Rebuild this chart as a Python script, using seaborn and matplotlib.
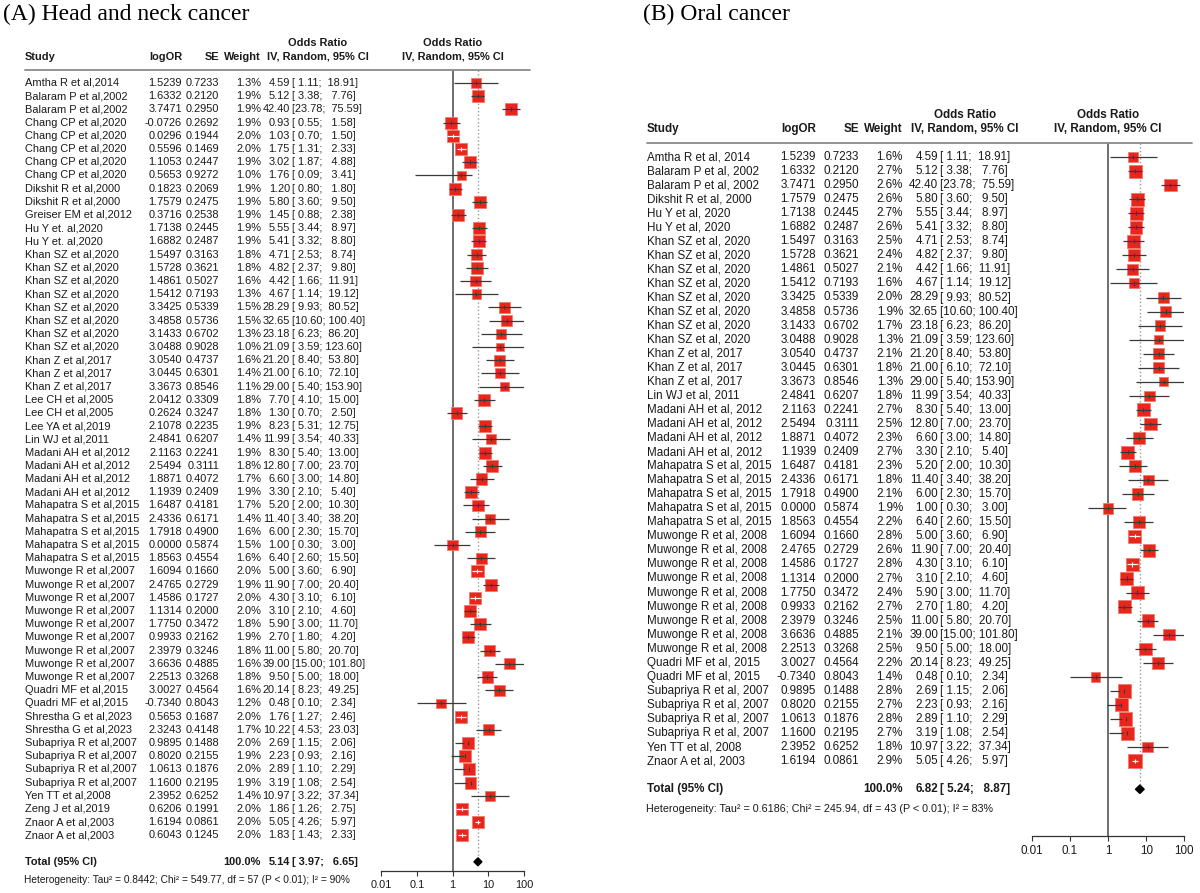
import numpy as np
import pandas as pd
import matplotlib
matplotlib.use('Agg')
import matplotlib.pyplot as plt
import matplotlib.transforms as mtransforms
from matplotlib.lines import Line2D
from matplotlib.ticker import NullLocator
import seaborn as sns

# (A) head and neck cancer
a_study = ["Amtha R et al,2014", "Balaram P et al,2002", "Balaram P et al,2002",
           "Chang CP et al,2020", "Chang CP et al,2020", "Chang CP et al,2020",
           "Chang CP et al,2020", "Chang CP et al,2020", "Dikshit R et al,2000",
           "Dikshit R et al,2000", "Greiser EM et al,2012", "Hu Y et. al,2020",
           "Hu Y et. al,2020", "Khan SZ et al,2020", "Khan SZ et al,2020",
           "Khan SZ et al,2020", "Khan SZ et al,2020", "Khan SZ et al,2020",
           "Khan SZ et al,2020", "Khan SZ et al,2020", "Khan SZ et al,2020",
           "Khan Z et al,2017", "Khan Z et al,2017", "Khan Z et al,2017",
           "Lee CH et al,2005", "Lee CH et al,2005", "Lee YA et al,2019",
           "Lin WJ et al,2011", "Madani AH et al,2012", "Madani AH et al,2012",
           "Madani AH et al,2012", "Madani AH et al,2012", "Mahapatra S et al,2015",
           "Mahapatra S et al,2015", "Mahapatra S et al,2015", "Mahapatra S et al,2015",
           "Mahapatra S et al,2015", "Muwonge R et al,2007", "Muwonge R et al,2007",
           "Muwonge R et al,2007", "Muwonge R et al,2007", "Muwonge R et al,2007",
           "Muwonge R et al,2007", "Muwonge R et al,2007", "Muwonge R et al,2007",
           "Muwonge R et al,2007", "Quadri MF et al,2015", "Quadri MF et al,2015",
           "Shrestha G et al,2023", "Shrestha G et al,2023", "Subapriya R et al,2007",
           "Subapriya R et al,2007", "Subapriya R et al,2007", "Subapriya R et al,2007",
           "Yen TT et al,2008", "Zeng J et al,2019", "Znaor A et al,2003",
           "Znaor A et al,2003"]
a_logor = [1.5239, 1.6332, 3.7471, -0.0726, 0.0296, 0.5596, 1.1053, 0.5653, 0.1823,
           1.7579, 0.3716, 1.7138, 1.6882, 1.5497, 1.5728, 1.4861, 1.5412, 3.3425,
           3.4858, 3.1433, 3.0488, 3.0540, 3.0445, 3.3673, 2.0412, 0.2624, 2.1078,
           2.4841, 2.1163, 2.5494, 1.8871, 1.1939, 1.6487, 2.4336, 1.7918, 0.0000,
           1.8563, 1.6094, 2.4765, 1.4586, 1.1314, 1.7750, 0.9933, 2.3979, 3.6636,
           2.2513, 3.0027, -0.7340, 0.5653, 2.3243, 0.9895, 0.8020, 1.0613, 1.1600,
           2.3952, 0.6206, 1.6194, 0.6043]
a_se = [0.7233, 0.2120, 0.2950, 0.2692, 0.1944, 0.1469, 0.2447, 0.9272, 0.2069,
        0.2475, 0.2538, 0.2445, 0.2487, 0.3163, 0.3621, 0.5027, 0.7193, 0.5339,
        0.5736, 0.6702, 0.9028, 0.4737, 0.6301, 0.8546, 0.3309, 0.3247, 0.2235,
        0.6207, 0.2241, 0.3111, 0.4072, 0.2409, 0.4181, 0.6171, 0.4900, 0.5874,
        0.4554, 0.1660, 0.2729, 0.1727, 0.2000, 0.3472, 0.2162, 0.3246, 0.4885,
        0.3268, 0.4564, 0.8043, 0.1687, 0.4148, 0.1488, 0.2155, 0.1876, 0.2195,
        0.6252, 0.1991, 0.0861, 0.1245]
a_weight = [1.3, 1.9, 1.9, 1.9, 2.0, 2.0, 1.9, 1.0, 1.9, 1.9, 1.9, 1.9, 1.9, 1.8,
            1.8, 1.6, 1.3, 1.5, 1.5, 1.3, 1.0, 1.6, 1.4, 1.1, 1.8, 1.8, 1.9, 1.4,
            1.9, 1.8, 1.7, 1.9, 1.7, 1.4, 1.6, 1.5, 1.6, 2.0, 1.9, 2.0, 2.0, 1.8,
            1.9, 1.8, 1.6, 1.8, 1.6, 1.2, 2.0, 1.7, 2.0, 1.9, 2.0, 1.9, 1.4, 2.0,
            2.0, 2.0]
a_or = [4.59, 5.12, 42.40, 0.93, 1.03, 1.75, 3.02, 1.76, 1.20, 5.80, 1.45, 5.55,
        5.41, 4.71, 4.82, 4.42, 4.67, 28.29, 32.65, 23.18, 21.09, 21.20, 21.00,
        29.00, 7.70, 1.30, 8.23, 11.99, 8.30, 12.80, 6.60, 3.30, 5.20, 11.40, 6.00,
        1.00, 6.40, 5.00, 11.90, 4.30, 3.10, 5.90, 2.70, 11.00, 39.00, 9.50, 20.14,
        0.48, 1.76, 10.22, 2.69, 2.23, 2.89, 3.19, 10.97, 1.86, 5.05, 1.83]
a_lo = [1.11, 3.38, 23.78, 0.55, 0.70, 1.31, 1.87, 0.09, 0.80, 3.60, 0.88, 3.44,
        3.32, 2.53, 2.37, 1.66, 1.14, 9.93, 10.60, 6.23, 3.59, 8.40, 6.10, 5.40,
        4.10, 0.70, 5.31, 3.54, 5.40, 7.00, 3.00, 2.10, 2.00, 3.40, 2.30, 0.30,
        2.60, 3.60, 7.00, 3.10, 2.10, 3.00, 1.80, 5.80, 15.00, 5.00, 8.23, 0.10,
        1.27, 4.53, 1.15, 0.93, 1.10, 1.08, 3.22, 1.26, 4.26, 1.43]
a_hi = [18.91, 7.76, 75.59, 1.58, 1.50, 2.33, 4.88, 3.41, 1.80, 9.50, 2.38, 8.97,
        8.80, 8.74, 9.80, 11.91, 19.12, 80.52, 100.40, 86.20, 123.60, 53.80, 72.10,
        153.90, 15.00, 2.50, 12.75, 40.33, 13.00, 23.70, 14.80, 5.40, 10.30, 38.20,
        15.70, 3.00, 15.50, 6.90, 20.40, 6.10, 4.60, 11.70, 4.20, 20.70, 101.80,
        18.00, 49.25, 2.34, 2.46, 23.03, 2.06, 2.16, 2.29, 2.54, 37.34, 2.75, 5.97,
        2.33]
a_total = [5.14, 3.97, 6.65]
a_het = "Heterogeneity: Tau² = 0.8442; Chi² = 549.77, df = 57 (P < 0.01); I² = 90%"

# (B) oral cancer
b_study = ["Amtha R et al, 2014", "Balaram P et al, 2002", "Balaram P et al, 2002",
           "Dikshit R et al, 2000", "Hu Y et al, 2020", "Hu Y et al, 2020",
           "Khan SZ et al, 2020", "Khan SZ et al, 2020", "Khan SZ et al, 2020",
           "Khan SZ et al, 2020", "Khan SZ et al, 2020", "Khan SZ et al, 2020",
           "Khan SZ et al, 2020", "Khan SZ et al, 2020", "Khan Z et al, 2017",
           "Khan Z et al, 2017", "Khan Z et al, 2017", "Lin WJ et al, 2011",
           "Madani AH et al, 2012", "Madani AH et al, 2012", "Madani AH et al, 2012",
           "Madani AH et al, 2012", "Mahapatra S et al, 2015", "Mahapatra S et al, 2015",
           "Mahapatra S et al, 2015", "Mahapatra S et al, 2015", "Mahapatra S et al, 2015",
           "Muwonge R et al, 2008", "Muwonge R et al, 2008", "Muwonge R et al, 2008",
           "Muwonge R et al, 2008", "Muwonge R et al, 2008", "Muwonge R et al, 2008",
           "Muwonge R et al, 2008", "Muwonge R et al, 2008", "Muwonge R et al, 2008",
           "Quadri MF et al, 2015", "Quadri MF et al, 2015", "Subapriya R et al, 2007",
           "Subapriya R et al, 2007", "Subapriya R et al, 2007", "Subapriya R et al, 2007",
           "Yen TT et al, 2008", "Znaor A et al, 2003"]
b_logor = [1.5239, 1.6332, 3.7471, 1.7579, 1.7138, 1.6882, 1.5497, 1.5728, 1.4861,
           1.5412, 3.3425, 3.4858, 3.1433, 3.0488, 3.0540, 3.0445, 3.3673, 2.4841,
           2.1163, 2.5494, 1.8871, 1.1939, 1.6487, 2.4336, 1.7918, 0.0000, 1.8563,
           1.6094, 2.4765, 1.4586, 1.1314, 1.7750, 0.9933, 2.3979, 3.6636, 2.2513,
           3.0027, -0.7340, 0.9895, 0.8020, 1.0613, 1.1600, 2.3952, 1.6194]
b_se = [0.7233, 0.2120, 0.2950, 0.2475, 0.2445, 0.2487, 0.3163, 0.3621, 0.5027,
        0.7193, 0.5339, 0.5736, 0.6702, 0.9028, 0.4737, 0.6301, 0.8546, 0.6207,
        0.2241, 0.3111, 0.4072, 0.2409, 0.4181, 0.6171, 0.4900, 0.5874, 0.4554,
        0.1660, 0.2729, 0.1727, 0.2000, 0.3472, 0.2162, 0.3246, 0.4885, 0.3268,
        0.4564, 0.8043, 0.1488, 0.2155, 0.1876, 0.2195, 0.6252, 0.0861]
b_weight = [1.6, 2.7, 2.6, 2.6, 2.7, 2.6, 2.5, 2.4, 2.1, 1.6, 2.0, 1.9, 1.7, 1.3,
            2.1, 1.8, 1.3, 1.8, 2.7, 2.5, 2.3, 2.7, 2.3, 1.8, 2.1, 1.9, 2.2, 2.8,
            2.6, 2.8, 2.7, 2.4, 2.7, 2.5, 2.1, 2.5, 2.2, 1.4, 2.8, 2.7, 2.8, 2.7,
            1.8, 2.9]
b_or = [4.59, 5.12, 42.40, 5.80, 5.55, 5.41, 4.71, 4.82, 4.42, 4.67, 28.29, 32.65,
        23.18, 21.09, 21.20, 21.00, 29.00, 11.99, 8.30, 12.80, 6.60, 3.30, 5.20,
        11.40, 6.00, 1.00, 6.40, 5.00, 11.90, 4.30, 3.10, 5.90, 2.70, 11.00, 39.00,
        9.50, 20.14, 0.48, 2.69, 2.23, 2.89, 3.19, 10.97, 5.05]
b_lo = [1.11, 3.38, 23.78, 3.60, 3.44, 3.32, 2.53, 2.37, 1.66, 1.14, 9.93, 10.60,
        6.23, 3.59, 8.40, 6.10, 5.40, 3.54, 5.40, 7.00, 3.00, 2.10, 2.00, 3.40, 2.30,
        0.30, 2.60, 3.60, 7.00, 3.10, 2.10, 3.00, 1.80, 5.80, 15.00, 5.00, 8.23, 0.10,
        1.15, 0.93, 1.10, 1.08, 3.22, 4.26]
b_hi = [18.91, 7.76, 75.59, 9.50, 8.97, 8.80, 8.74, 9.80, 11.91, 19.12, 80.52,
        100.40, 86.20, 123.60, 53.80, 72.10, 153.90, 40.33, 13.00, 23.70, 14.80, 5.40,
        10.30, 38.20, 15.70, 3.00, 15.50, 6.90, 20.40, 6.10, 4.60, 11.70, 4.20, 20.70,
        101.80, 18.00, 49.25, 2.34, 2.06, 2.16, 2.29, 2.54, 37.34, 5.97]
b_total = [6.82, 5.24, 8.87]
b_het = "Heterogeneity: Tau² = 0.6186; Chi² = 245.94, df = 43 (P < 0.01); I² = 83%"

xticks = [0.01, 0.1, 1, 10, 100]
xtick_labels = ['0.01', '0.1', '1', '10', '100']

W, H = 1200, 893

sns.set_theme(style='white')
plt.rcParams['font.family'] = ['Liberation Sans', 'DejaVu Sans']

# layout in pixels for each panel
lay_a = dict(title='(A) Head and neck cancer', title_x=3, fs=7.9,
             row0=83, rowh=13.2, x_name=25, x_logor=182, x_se=219, x_wt=261,
             x_est=290, x_ci=292, x_hdr=318, ax_left=381, ax_right=524,
             ax_top=70, ax_bottom=871, sep_right=530, box_px=8.6, het_row=60.4)
lay_b = dict(title='(B) Oral cancer', title_x=643, fs=8.4,
             row0=157, rowh=14.05, x_name=647, x_logor=816, x_se=859, x_wt=903,
             x_est=938, x_ci=940, x_hdr=965, ax_left=1031.6, ax_right=1184.4,
             ax_top=143, ax_bottom=836, sep_right=1192, box_px=7.9, het_row=46.4)

TXT = '#1a1a1a'
BOX = '#e8261b'


def draw_panel(fig, study, logor, se, weight, est, lo, hi, total, het, lay):
    n = len(study)
    fs = lay['fs']
    r0, rh = lay['row0'], lay['rowh']
    y_top = (lay['ax_top'] - r0) / rh
    y_bot = (lay['ax_bottom'] - r0) / rh

    ax = fig.add_axes([lay['ax_left'] / W, 1 - lay['ax_bottom'] / H,
                       (lay['ax_right'] - lay['ax_left']) / W,
                       (lay['ax_bottom'] - lay['ax_top']) / H])
    ax.set_xscale('log')

    rows = np.arange(n)
    est = np.array(est); lo = np.array(lo); hi = np.array(hi)
    weight = np.array(weight)
    df = pd.DataFrame({'OR': est, 'row': rows, 'w': weight})

    # box area proportional to weight
    k = (0.72 * lay['box_px']) ** 2
    wmin, wmax = weight.min(), weight.max()
    sns.scatterplot(data=df, x='OR', y='row', size='w', sizes=(k * wmin, k * wmax),
                    size_norm=(wmin, wmax), marker='s', color=BOX,
                    edgecolor='#f07a6e', linewidth=0.6, legend=False, ax=ax, zorder=3)

    # ci lines (white when the interval sits inside the box)
    decade = (lay['ax_right'] - lay['ax_left']) / 4
    half = lay['box_px'] * np.sqrt(weight) / 2
    reach = np.maximum(np.log10(hi / est), np.log10(est / lo)) * decade
    cols = np.where(reach < half, 'white', '#3a3a3a')
    ax.hlines(rows, lo, hi, colors=cols, lw=0.9, zorder=4)
    ax.scatter(est, rows, marker='|', s=9, c=cols, linewidths=0.8, zorder=5)

    ax.axvline(1, color='#555555', lw=1.2, zorder=1)
    tot_row = n + 1
    ax.vlines(total[0], y_top, tot_row, colors='#9a9a9a', linestyles=':', lw=1, zorder=1)
    dh = 0.3
    ax.fill([total[1], total[0], total[2], total[0]],
            [tot_row, tot_row - dh, tot_row, tot_row + dh], color='black', zorder=4)

    ax.set_xlim(0.01, 100)
    ax.set_ylim(y_bot, y_top)
    ax.set_xticks(xticks)
    ax.set_xticklabels(xtick_labels)
    ax.xaxis.set_minor_locator(NullLocator())
    ax.set_yticks([])
    ax.set_xlabel('')
    ax.set_ylabel('')
    for s in ['top', 'right', 'left']:
        ax.spines[s].set_visible(False)
    ax.spines['bottom'].set_color('#333333')
    ax.spines['bottom'].set_linewidth(0.9)
    ax.tick_params(axis='x', direction='out', length=3.8, width=0.8, color='#333333',
                   labelsize=fs, labelcolor=TXT, pad=2.5, bottom=True)
    ax.patch.set_alpha(0)

    tr = mtransforms.blended_transform_factory(fig.transFigure, ax.transData)

    def put(px, row, s, ha='left', bold=False, size=fs):
        ax.text(px / W, row, s, transform=tr, ha=ha, va='center', fontsize=size,
                color=TXT, fontweight='bold' if bold else 'normal')

    # header
    put(lay['x_name'], -2, 'Study', bold=True)
    put(lay['x_logor'], -2, 'logOR', ha='right', bold=True)
    put(lay['x_se'], -2, 'SE', ha='right', bold=True)
    put(lay['x_wt'], -2, 'Weight', ha='right', bold=True)
    put(lay['x_hdr'], -3, 'Odds Ratio', ha='center', bold=True)
    put(lay['x_hdr'], -2, 'IV, Random, 95% CI', ha='center', bold=True)
    ax.text(1, -3, 'Odds Ratio', ha='center', va='center', fontsize=fs,
            fontweight='bold', color=TXT)
    ax.text(1, -2, 'IV, Random, 95% CI', ha='center', va='center', fontsize=fs,
            fontweight='bold', color=TXT)
    fig.add_artist(Line2D([lay['x_name'] / W, lay['sep_right'] / W],
                          [1 - lay['ax_top'] / H] * 2, transform=fig.transFigure,
                          color='#8a8a8a', lw=1.3))

    for i in range(n):
        put(lay['x_name'], i, study[i])
        put(lay['x_logor'], i, f"{logor[i]:.4f}", ha='right')
        put(lay['x_se'], i, f"{se[i]:.4f}", ha='right')
        put(lay['x_wt'], i, f"{weight[i]:.1f}%", ha='right')
        put(lay['x_est'], i, f"{est[i]:.2f}", ha='right')
        put(lay['x_ci'], i, f"[{lo[i]:5.2f}; {hi[i]:6.2f}]")

    put(lay['x_name'], tot_row, 'Total (95% CI)', bold=True)
    put(lay['x_wt'], tot_row, '100.0%', ha='right', bold=True)
    put(lay['x_est'], tot_row, f"{total[0]:.2f}", ha='right', bold=True)
    put(lay['x_ci'], tot_row, f"[{total[1]:5.2f}; {total[2]:6.2f}]", bold=True)
    put(lay['x_name'] - 1, lay['het_row'], het, size=fs * 0.92)

    fig.text(lay['title_x'] / W, 1 - 14 / H, lay['title'], fontsize=17,
             family=['Liberation Serif', 'DejaVu Serif'], va='center', color='black')
    return ax


fig = plt.figure(figsize=(W / 100, H / 100), dpi=100)
fig.patch.set_facecolor('white')
draw_panel(fig, a_study, a_logor, a_se, a_weight, a_or, a_lo, a_hi, a_total, a_het, lay_a)
draw_panel(fig, b_study, b_logor, b_se, b_weight, b_or, b_lo, b_hi, b_total, b_het, lay_b)
fig.savefig('out.png', dpi=100)
